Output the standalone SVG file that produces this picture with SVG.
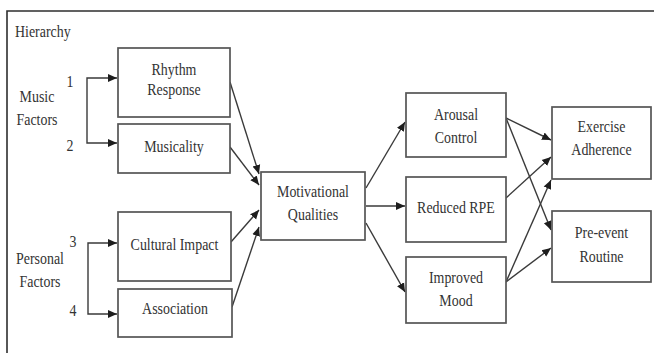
<svg xmlns="http://www.w3.org/2000/svg" width="654" height="353" viewBox="0 0 654 353">
  <defs>
    <style>
      .box { fill: #ffffff; stroke: #555555; stroke-width: 1.7; }
      text { font-size: 17px; fill: #333333; }
      .t { text-anchor: middle; }
      .ts { text-anchor: start; }
      .c { fill: none; stroke: #3a3a3a; stroke-width: 1.4; marker-end: url(#ah); }
      .frame { fill: none; stroke: #2e2e2e; stroke-width: 1.6; }
    </style>
    <marker id="ah" markerUnits="userSpaceOnUse" markerWidth="10" markerHeight="10" viewBox="0 0 10 10" refX="9" refY="5" orient="auto">
      <path d="M0,1 L9,5 L0,9 Z" fill="#1e1e1e"/>
    </marker>
  </defs>
  <rect x="0" y="0" width="654" height="353" fill="#ffffff"/>

  <g id="frame">
    <path class="frame" d="M7,353 V11 H654"/>
  </g>

  <g font-family="Liberation Serif, Times New Roman, serif">
  <g id="labels">
    <text class="ts" transform="translate(15,37) scale(0.82,1)">Hierarchy</text>
    <text class="t" transform="translate(37,102) scale(0.82,1)">Music</text>
    <text class="t" transform="translate(37,125) scale(0.82,1)">Factors</text>
    <text class="t" transform="translate(70,87) scale(0.82,1)">1</text>
    <text class="t" transform="translate(70,151) scale(0.82,1)">2</text>
    <text class="t" transform="translate(40,264) scale(0.82,1)">Personal</text>
    <text class="t" transform="translate(40,287) scale(0.82,1)">Factors</text>
    <text class="t" transform="translate(73,247) scale(0.82,1)">3</text>
    <text class="t" transform="translate(73,316) scale(0.82,1)">4</text>
  </g>

  <g id="connectors">
    <path class="c" d="M87,110 V78 H117"/>
    <path class="c" d="M87,110 V143 H117"/>
    <path class="c" d="M88,278 V243 H117"/>
    <path class="c" d="M88,278 V314 H117"/>
    <path class="c" d="M230,82 L259,174"/>
    <path class="c" d="M230,147 L259,185"/>
    <path class="c" d="M231,242 L259,210"/>
    <path class="c" d="M232,307 L259,227"/>
    <path class="c" d="M366,188 L405,122"/>
    <path class="c" d="M366,206 L405,206"/>
    <path class="c" d="M366,223 L405,292"/>
    <path class="c" d="M506,118 L551,140"/>
    <path class="c" d="M506,118 L551,230"/>
    <path class="c" d="M506,198 L551,157"/>
    <path class="c" d="M506,282 L551,180"/>
    <path class="c" d="M506,282 L551,248"/>
  </g>

  <g id="rhythm-response">
    <rect class="box" x="118" y="48" width="112" height="69"/>
    <text class="t" transform="translate(174,75) scale(0.82,1)">Rhythm</text>
    <text class="t" transform="translate(174,95) scale(0.82,1)">Response</text>
  </g>
  <g id="musicality">
    <rect class="box" x="118" y="124" width="112" height="49"/>
    <text class="t" transform="translate(174,152) scale(0.82,1)">Musicality</text>
  </g>
  <g id="cultural-impact">
    <rect class="box" x="118" y="212" width="113" height="69"/>
    <text class="t" transform="translate(174.5,250) scale(0.82,1)">Cultural Impact</text>
  </g>
  <g id="association">
    <rect class="box" x="118" y="289" width="114" height="48"/>
    <text class="t" transform="translate(175,314) scale(0.82,1)">Association</text>
  </g>
  <g id="motivational-qualities">
    <rect class="box" x="261" y="172" width="104" height="68"/>
    <text class="t" transform="translate(313,197) scale(0.82,1)">Motivational</text>
    <text class="t" transform="translate(313,220) scale(0.82,1)">Qualities</text>
  </g>
  <g id="arousal-control">
    <rect class="box" x="406" y="93" width="100" height="64"/>
    <text class="t" transform="translate(456,120) scale(0.82,1)">Arousal</text>
    <text class="t" transform="translate(456,143) scale(0.82,1)">Control</text>
  </g>
  <g id="reduced-rpe">
    <rect class="box" x="406" y="177" width="100" height="65"/>
    <text class="t" transform="translate(456,213) scale(0.82,1)">Reduced RPE</text>
  </g>
  <g id="improved-mood">
    <rect class="box" x="406" y="257" width="100" height="66"/>
    <text class="t" transform="translate(456,283) scale(0.82,1)">Improved</text>
    <text class="t" transform="translate(456,306) scale(0.82,1)">Mood</text>
  </g>
  <g id="exercise-adherence">
    <rect class="box" x="552" y="107" width="99" height="72"/>
    <text class="t" transform="translate(601.5,132) scale(0.82,1)">Exercise</text>
    <text class="t" transform="translate(601.5,155) scale(0.82,1)">Adherence</text>
  </g>
  <g id="pre-event-routine">
    <rect class="box" x="552" y="211" width="99" height="71"/>
    <text class="t" transform="translate(601.5,238) scale(0.82,1)">Pre-event</text>
    <text class="t" transform="translate(601.5,262) scale(0.82,1)">Routine</text>
  </g>
  </g>
</svg>
